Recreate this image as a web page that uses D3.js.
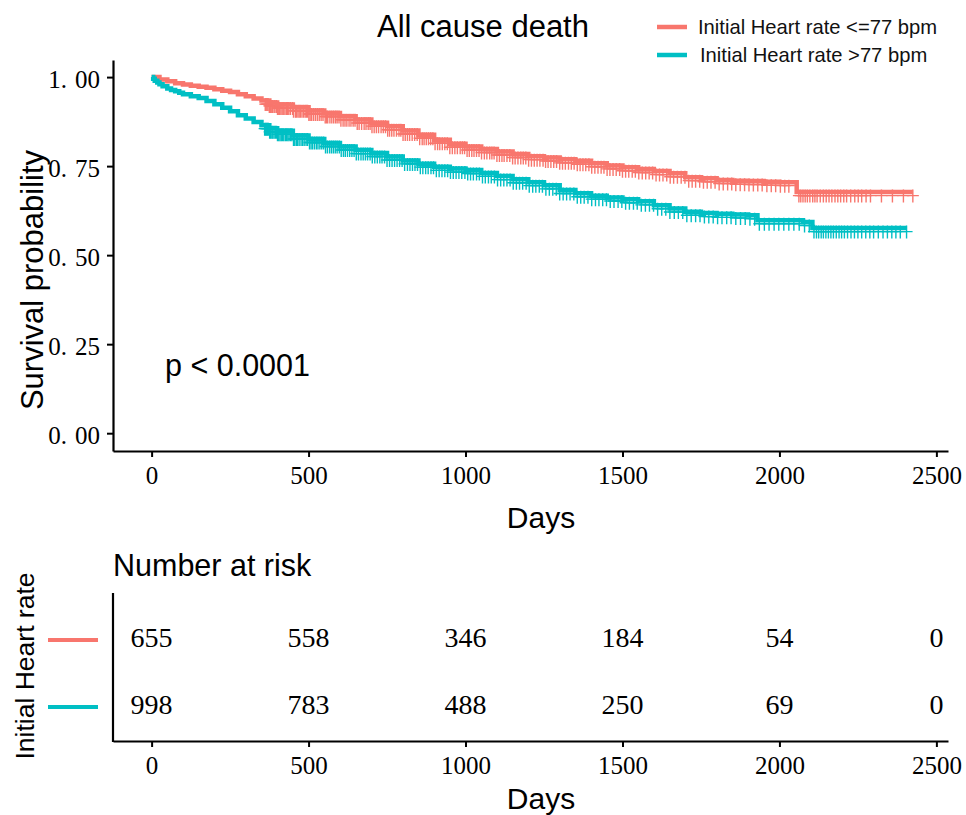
<!DOCTYPE html>
<html>
<head>
<meta charset="utf-8">
<script src="https://cdn.jsdelivr.net/npm/d3@7"></script>
<style>
  html, body { margin: 0; padding: 0; background: #fff; }
  svg { display: block; }
  .sans { font-family: "Liberation Sans", Arial, sans-serif; }
  .serif { font-family: "Liberation Serif", "Times New Roman", serif; }
</style>
</head>
<body>
<svg id="chart" width="966" height="815"></svg>
<script>
// ---------------- DATA ----------------
const title = "All cause death";
const groups = ["Initial Heart rate <=77 bpm", "Initial Heart rate >77 bpm"];
const colors = ["#F8766D", "#00BFC4"];

// Kaplan-Meier step curve, group <=77 bpm
const lowTime = [0,25,50,75,100,125,150,175,200,225,250,275,300,325,350,375,400,450,500,550,600,650,700,750,800,850,900,950,1000,1050,1100,1150,1200,1250,1300,1350,1400,1450,1500,1550,1600,1650,1700,1750,1800,1850,1900,1950,2000,2055,2425];
const lowSurv = [1.000,0.993,0.988,0.983,0.979,0.976,0.973,0.970,0.966,0.962,0.958,0.952,0.946,0.940,0.934,0.929,0.923,0.915,0.906,0.899,0.890,0.881,0.872,0.862,0.850,0.838,0.824,0.813,0.805,0.798,0.791,0.784,0.778,0.774,0.769,0.765,0.758,0.752,0.747,0.742,0.736,0.730,0.719,0.716,0.711,0.709,0.708,0.706,0.705,0.677,0.677];

// Kaplan-Meier step curve, group >77 bpm
const highTime = [0,5,10,18,25,35,50,62,75,88,100,125,150,175,200,225,250,275,300,325,350,375,400,450,500,550,600,650,700,750,800,850,900,950,1000,1050,1100,1150,1200,1250,1300,1350,1400,1450,1500,1550,1600,1650,1700,1750,1800,1850,1900,1930,2075,2105,2405];
const highSurv = [1.000,0.995,0.990,0.985,0.980,0.974,0.968,0.964,0.960,0.956,0.952,0.946,0.941,0.933,0.924,0.914,0.904,0.893,0.884,0.874,0.865,0.856,0.849,0.836,0.826,0.815,0.805,0.795,0.787,0.777,0.766,0.757,0.748,0.743,0.739,0.731,0.722,0.713,0.705,0.696,0.683,0.674,0.667,0.662,0.657,0.651,0.640,0.631,0.622,0.618,0.616,0.614,0.612,0.598,0.593,0.576,0.576];

// censoring times
const lowCensor = [362,365,368,371,375,378,381,385,390,393,398,401,405,408,412,416,421,425,430,433,437,442,449,452,458,461,466,470,474,479,484,489,493,497,501,505,510,516,522,528,534,540,546,553,557,561,568,574,580,586,591,597,603,610,616,622,629,635,642,648,655,661,669,677,683,690,696,702,709,716,723,731,738,745,752,758,765,772,780,788,794,801,808,815,822,830,838,846,854,862,868,875,882,889,896,903,911,918,926,934,942,950,958,966,974,983,990,997,1005,1012,1020,1027,1035,1043,1051,1060,1068,1077,1084,1091,1100,1108,1116,1123,1132,1141,1150,1158,1167,1176,1184,1192,1201,1210,1219,1228,1237,1247,1255,1263,1272,1281,1290,1300,1309,1318,1328,1337,1346,1356,1365,1374,1383,1393,1402,1412,1422,1432,1441,1451,1460,1470,1480,1491,1500,1510,1520,1531,1541,1552,1563,1574,1585,1596,1607,1618,1629,1641,1652,1663,1675,1687,1699,1711,1722,1733,1746,1758,1770,1782,1795,1808,1821,1835,1848,1861,1875,1889,1903,1917,1931,1945,1960,1974,1988,2003,2017,2030,2062,2068,2075,2082,2089,2097,2106,2113,2120,2130,2140,2149,2158,2167,2177,2186,2195,2205,2214,2227,2240,2251,2262,2276,2290,2325,2360,2395,2425];
const highCensor = [360,363,366,369,372,376,379,383,386,390,394,398,401,405,409,413,417,421,426,430,434,438,443,447,452,456,461,465,470,476,481,486,492,497,503,508,513,519,525,530,536,542,548,554,560,567,573,579,585,591,598,604,611,617,624,631,638,645,652,659,667,674,681,688,696,703,711,719,727,734,742,750,758,766,774,782,790,798,806,815,823,831,839,847,856,864,873,881,890,898,907,916,925,934,943,952,961,970,979,988,998,1007,1016,1025,1035,1044,1054,1063,1073,1082,1092,1102,1112,1122,1132,1142,1152,1162,1172,1182,1193,1203,1214,1224,1235,1245,1256,1267,1278,1289,1300,1311,1322,1333,1345,1356,1367,1378,1390,1402,1414,1425,1437,1449,1461,1473,1486,1498,1510,1522,1535,1547,1560,1573,1586,1599,1612,1625,1638,1651,1665,1678,1692,1705,1719,1733,1747,1761,1775,1789,1803,1817,1832,1846,1861,1876,1891,1906,1921,1936,1952,1967,1983,1998,2014,2030,2046,2063,2080,2095,2110,2118,2125,2133,2140,2148,2156,2164,2172,2181,2190,2198,2207,2217,2228,2239,2250,2262,2275,2288,2300,2315,2330,2344,2358,2371,2385,2405];

const xTicks = [0,500,1000,1500,2000,2500];
const yTicks = [0,0.25,0.5,0.75,1];
const riskLow = [655,558,346,184,54,0];
const riskHigh = [998,783,488,250,69,0];
const pText = "p < 0.0001";

// ---------------- DRAW ----------------
const svg = d3.select("#chart");
const x = d3.scaleLinear().domain([-123, 2537]).range([113, 948]);
const y = d3.scaleLinear().domain([-0.05, 1.048]).range([451, 60]);

function stepSurv(times, surv, t) {
  const i = d3.bisectRight(times, t) - 1;
  return surv[Math.max(0, i)];
}

// title
svg.append("text").attr("class","sans").attr("x",483).attr("y",37)
  .attr("text-anchor","middle").attr("font-size",31).attr("fill","#000").text(title);

// legend
groups.forEach((g,i)=>{
  const ly = 27 + i*28;
  svg.append("line").attr("x1",657).attr("x2",687).attr("y1",ly).attr("y2",ly)
    .attr("stroke",colors[i]).attr("stroke-width",4.5);
  svg.append("text").attr("class","sans").attr("x", i===0 ? 698 : 700).attr("y",ly+7)
    .attr("font-size",20.2).attr("fill","#111").text(g);
});

function styleAxis(gAxis) {
  gAxis.select(".domain").attr("stroke","#000").attr("stroke-width",2.2);
  gAxis.selectAll(".tick line").attr("stroke","#000").attr("stroke-width",2);
  gAxis.selectAll(".tick text").attr("class","serif").attr("fill","#000");
}
const xAxisG = svg.append("g").attr("transform","translate(0,451)")
  .call(d3.axisBottom(x).tickValues(xTicks).tickSize(6).tickSizeOuter(0).tickPadding(9).tickFormat(d3.format("d")));
styleAxis(xAxisG);
xAxisG.selectAll(".tick text").attr("font-size",25);

const yAxisG = svg.append("g").attr("transform","translate(113,0)")
  .call(d3.axisLeft(y).tickValues(yTicks).tickSize(6).tickSizeOuter(0).tickPadding(7));
styleAxis(yAxisG);
yAxisG.selectAll(".tick text").attr("font-size",25).attr("dy","0.42em")
  .each(function(d){
    const s = d3.format(".2f")(d).split(".");
    const t = d3.select(this); t.text(null);
    t.append("tspan").text(s[0] + ".");
    t.append("tspan").attr("dx",8).text(s[1]);
  });

// axis titles
svg.append("text").attr("class","sans").attr("x",541).attr("y",528)
  .attr("text-anchor","middle").attr("font-size",30).text("Days");
svg.append("text").attr("class","sans").attr("transform","translate(43,280) rotate(-90)")
  .attr("text-anchor","middle").attr("font-size",31).text("Survival probability");

// p-value
svg.append("text").attr("class","sans").attr("x",165).attr("y",376)
  .attr("font-size",30.5).text(pText);

// curves
const line = d3.line().x(d=>x(d[0])).y(d=>y(d[1])).curve(d3.curveStepAfter);
const series = [
  {t: lowTime, s: lowSurv, c: lowCensor, col: colors[0]},
  {t: highTime, s: highSurv, c: highCensor, col: colors[1]}
];
series.forEach(sr=>{
  const cg = svg.append("g").attr("stroke", sr.col).attr("stroke-width",1.4).attr("fill","none");
  sr.c.forEach(ct=>{
    const cx = x(ct), cy = y(stepSurv(sr.t, sr.s, ct)) + 3.5;
    cg.append("path").attr("d", `M${cx-6},${cy}H${cx+6}M${cx},${cy-6}V${cy+7}`);
  });
  svg.append("path").datum(sr.t.map((t,i)=>[t, sr.s[i]]))
    .attr("d", line).attr("fill","none").attr("stroke", sr.col).attr("stroke-width",4.5);
});

// ---------------- risk table ----------------
svg.append("text").attr("class","sans").attr("x",113).attr("y",576)
  .attr("font-size",30.5).text("Number at risk");

const xAxisR = svg.append("g").attr("transform","translate(0,741)")
  .call(d3.axisBottom(x).tickValues(xTicks).tickSize(6).tickSizeOuter(0).tickPadding(9).tickFormat(d3.format("d")));
styleAxis(xAxisR);
xAxisR.selectAll(".tick text").attr("font-size",25);
svg.append("line").attr("x1",113).attr("x2",113).attr("y1",593).attr("y2",742)
  .attr("stroke","#000").attr("stroke-width",2.2);

[riskLow, riskHigh].forEach((row,i)=>{
  const cy = i===0 ? 637 : 704;
  svg.append("g").selectAll("text").data(row).join("text")
    .attr("class","serif").attr("x",(d,j)=>x(xTicks[j])).attr("y",cy+10)
    .attr("text-anchor","middle").attr("font-size",28).text(d=>d);
  svg.append("line").attr("x1",48).attr("x2",98).attr("y1",cy+3).attr("y2",cy+3)
    .attr("stroke",colors[i]).attr("stroke-width",4);
});

svg.append("text").attr("class","sans").attr("transform","translate(34,666) rotate(-90)")
  .attr("text-anchor","middle").attr("font-size",26.5).text("Initial Heart rate");
svg.append("text").attr("class","sans").attr("x",541).attr("y",809)
  .attr("text-anchor","middle").attr("font-size",30).text("Days");
</script>
</body>
</html>
